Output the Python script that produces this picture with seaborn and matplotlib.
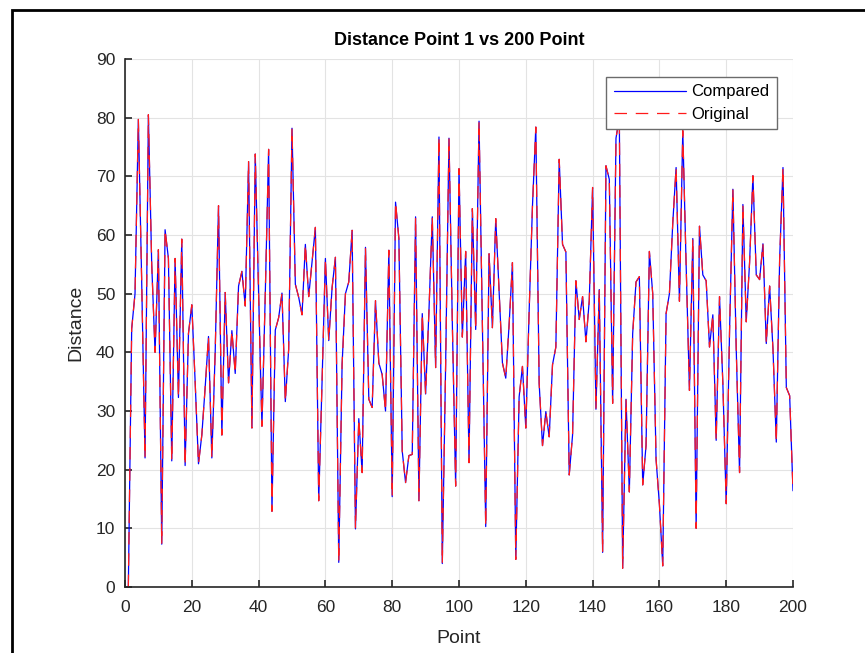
import matplotlib
matplotlib.use("Agg")
import matplotlib.pyplot as plt
import seaborn as sns
import numpy as np
from matplotlib.patches import Rectangle

# ---- data ----
points = list(range(1, 201))
compared = [
    0.0, 44.0, 50.0, 79.7, 52.0, 22.0, 80.5, 55.0, 40.0, 57.5,
    7.3, 60.9, 56.0, 21.5, 56.0, 32.3, 59.3, 20.7, 43.2, 48.1,
    35.0, 21.0, 25.9, 34.0, 42.7, 22.0, 40.0, 65.0, 25.9, 50.2,
    34.8, 43.7, 36.4, 51.3, 53.8, 47.9, 72.5, 27.1, 73.8, 50.0,
    27.4, 50.0, 74.6, 12.9, 43.8, 45.9, 50.1, 31.6, 40.5, 78.2,
    51.6, 49.4, 46.4, 58.4, 49.5, 55.5, 61.3, 14.7, 35.0, 56.0,
    42.0, 51.0, 56.2, 4.2, 38.0, 50.0, 52.0, 60.8, 9.9, 28.7,
    19.5, 57.9, 32.0, 30.6, 48.8, 38.2, 36.2, 30.0, 57.4, 15.4,
    65.6, 59.4, 23.2, 17.8, 22.4, 22.6, 63.1, 14.7, 46.6, 32.9,
    47.0, 63.1, 37.4, 76.7, 4.0, 38.0, 76.5, 45.0, 17.2, 71.3,
    42.6, 57.2, 21.2, 64.5, 43.9, 79.4, 45.0, 10.3, 56.8, 44.2,
    62.8, 50.6, 38.2, 35.6, 44.7, 55.3, 4.7, 32.4, 37.6, 27.1,
    47.0, 65.0, 78.4, 34.7, 24.1, 29.9, 25.6, 37.9, 40.9, 72.9,
    58.4, 57.1, 19.1, 25.9, 52.2, 45.6, 49.5, 41.8, 48.8, 68.1,
    30.3, 50.7, 5.9, 71.8, 69.5, 31.3, 76.5, 80.0, 3.2, 32.0,
    16.2, 43.2, 52.0, 52.9, 17.4, 24.1, 57.2, 50.0, 21.8, 14.1,
    3.6, 46.6, 50.0, 62.0, 71.5, 48.7, 77.8, 55.0, 33.5, 59.4,
    10.0, 61.5, 53.2, 52.2, 40.9, 46.4, 25.0, 49.5, 34.7, 14.2,
    43.5, 67.8, 40.6, 19.5, 65.2, 45.2, 55.3, 70.1, 53.2, 52.4,
    58.5, 41.5, 51.3, 40.6, 24.7, 55.9, 71.5, 34.0, 32.6, 16.4,
]
original = [
    0.0, 44.0, 50.0, 79.7, 52.0, 22.0, 80.5, 55.0, 40.0, 57.5,
    7.3, 60.9, 56.0, 21.5, 56.0, 32.3, 59.3, 20.7, 43.2, 48.1,
    35.0, 21.0, 25.9, 34.0, 42.7, 22.0, 40.0, 65.0, 25.9, 50.2,
    34.8, 43.7, 36.4, 51.3, 53.8, 47.9, 72.5, 27.1, 73.8, 50.0,
    27.4, 50.0, 74.6, 12.9, 43.8, 45.9, 50.1, 31.6, 40.5, 78.2,
    51.6, 49.4, 46.4, 58.4, 49.5, 55.5, 61.3, 14.7, 35.0, 56.0,
    42.0, 51.0, 56.2, 4.2, 38.0, 50.0, 52.0, 60.8, 9.9, 28.7,
    19.5, 57.9, 32.0, 30.6, 48.8, 38.2, 36.2, 30.0, 57.4, 15.4,
    65.6, 59.4, 23.2, 17.8, 22.4, 22.6, 63.1, 14.7, 46.6, 32.9,
    47.0, 63.1, 37.4, 76.7, 4.0, 38.0, 76.5, 45.0, 17.2, 71.3,
    42.6, 57.2, 21.2, 64.5, 43.9, 79.4, 45.0, 10.3, 56.8, 44.2,
    62.8, 50.6, 38.2, 35.6, 44.7, 55.3, 4.7, 32.4, 37.6, 27.1,
    47.0, 65.0, 78.4, 34.7, 24.1, 29.9, 25.6, 37.9, 40.9, 72.9,
    58.4, 57.1, 19.1, 25.9, 52.2, 45.6, 49.5, 41.8, 48.8, 68.1,
    30.3, 50.7, 5.9, 71.8, 69.5, 31.3, 76.5, 80.0, 3.2, 32.0,
    16.2, 43.2, 52.0, 52.9, 17.4, 24.1, 57.2, 50.0, 21.8, 14.1,
    3.6, 46.6, 50.0, 62.0, 71.5, 48.7, 77.8, 55.0, 33.5, 59.4,
    10.0, 61.5, 53.2, 52.2, 40.9, 46.4, 25.0, 49.5, 34.7, 14.2,
    43.5, 67.8, 40.6, 19.5, 65.2, 45.2, 55.3, 70.1, 53.2, 52.4,
    58.5, 41.5, 51.3, 40.6, 24.7, 55.9, 71.5, 34.0, 32.6, 16.4,
]
x_ticks = [0, 20, 40, 60, 80, 100, 120, 140, 160, 180, 200]
y_ticks = [0, 10, 20, 30, 40, 50, 60, 70, 80, 90]

sns.set_theme(style="whitegrid")
plt.rcParams['font.family'] = ['Liberation Sans', 'DejaVu Sans']

fig = plt.figure(figsize=(8.65, 6.53), dpi=100)
ax = fig.add_axes([125/865, 66/653, 668/865, 528/653])

sns.lineplot(x=points, y=compared, ax=ax, color=(0, 0, 1), linewidth=0.9,
             label='Compared', estimator=None)
sns.lineplot(x=points, y=original, ax=ax, color=(1, 0.1, 0.1), linewidth=0.9,
             linestyle=(0, (10, 7)), label='Original', estimator=None)

ax.set_xlim(0, 200)
ax.set_ylim(0, 90)
ax.set_xticks(x_ticks)
ax.set_yticks(y_ticks)
ax.grid(True, color='#e3e3e3', linewidth=0.8)
ax.set_axisbelow(True)
for s in ['top', 'right']:
    ax.spines[s].set_visible(False)
for s in ['left', 'bottom']:
    ax.spines[s].set_visible(True)
    ax.spines[s].set_color('#262626')
    ax.spines[s].set_linewidth(1.2)
ax.tick_params(axis='x', pad=9)
ax.tick_params(axis='y', pad=7)
ax.tick_params(axis='both', direction='in', length=5, width=1.2, color='#262626',
               labelsize=12.5, labelcolor='#262626', left=True, bottom=True)
ax.set_title('Distance Point 1 vs 200 Point', fontsize=13, fontweight='bold',
             color='black', pad=10)
ax.set_xlabel('Point', fontsize=14, color='#262626', labelpad=11)
ax.set_ylabel('Distance', fontsize=14, color='#262626', labelpad=8)

leg = ax.legend(loc='upper right', bbox_to_anchor=(0.976, 0.966), fontsize=12,
                frameon=True, fancybox=False, handlelength=4.3, borderpad=0.45,
                labelspacing=0.45, handletextpad=0.35, borderaxespad=0.0)
leg.get_frame().set_edgecolor('#6b6b6b')
leg.get_frame().set_linewidth(1.0)
leg.get_frame().set_alpha(1.0)
for t in leg.get_texts():
    t.set_color('black')

# screenshot frame
fig.add_artist(Rectangle((12/865, -0.1), 1.2, 1.1 - 10/653, transform=fig.transFigure,
                         fill=False, edgecolor='black', linewidth=2))

fig.savefig('out.png', dpi=100)
